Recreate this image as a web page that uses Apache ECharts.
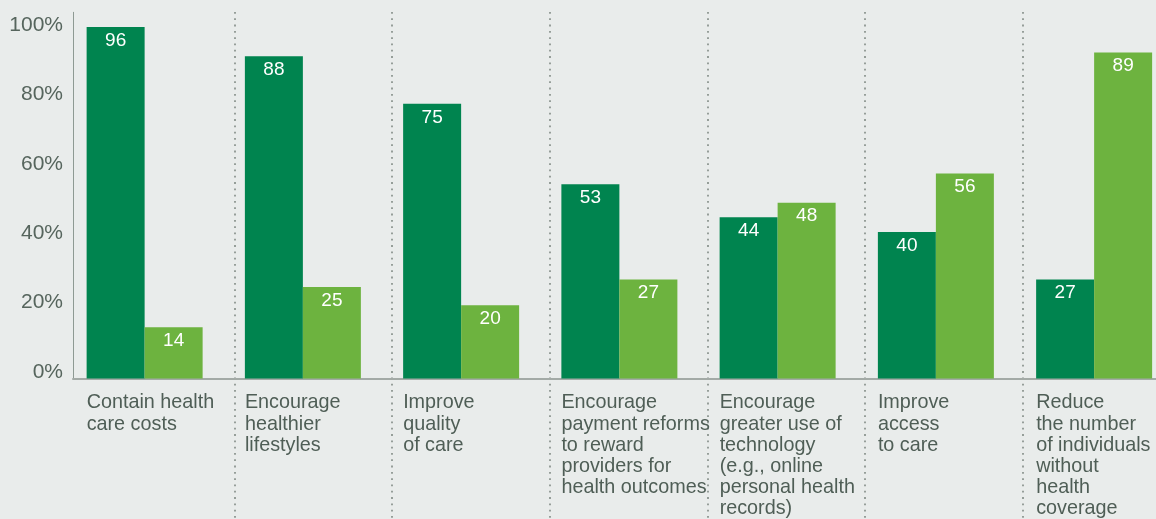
<!DOCTYPE html>
<html>
<head>
<meta charset="utf-8">
<title>Health care goals</title>
<script src="https://cdn.jsdelivr.net/npm/echarts@6/dist/echarts.min.js"></script>
<style>
  html, body { margin: 0; padding: 0; background: #e9eceb; overflow: hidden; }
  /* the last group runs slightly past the right edge of the window */
  #chart { width: 1180px; height: 519px; }
</style>
</head>
<body>
<div id="chart"></div>
<script>
// Goal categories (line breaks as they are set under each group)
const categories = [
  'Contain health\ncare costs',
  'Encourage\nhealthier\nlifestyles',
  'Improve\nquality\nof care',
  'Encourage\npayment reforms\nto reward\nproviders for\nhealth outcomes',
  'Encourage\ngreater use of\ntechnology\n(e.g., online\npersonal health\nrecords)',
  'Improve\naccess\nto care',
  'Reduce\nthe number\nof individuals\nwithout\nhealth\ncoverage'
];

// Percent values for the two bars in each group
const darkValues = [96, 88, 75, 53, 44, 40, 27];
const lightValues = [14, 25, 20, 27, 48, 56, 89];

// Value axis range and step
const yMin = 0;
const yMax = 100;
const yStep = 20;

const FONT = "'Liberation Sans', Arial, Helvetica, sans-serif";
const TEXT = '#4f5e56';

const chart = echarts.init(document.getElementById('chart'), null, { renderer: 'canvas' });

const barLabel = {
  show: true,
  position: 'insideTop',
  distance: 4,
  color: '#ffffff',
  fontSize: 19,
  fontFamily: FONT
};

chart.setOption({
  backgroundColor: '#e9eceb',
  animation: false,
  grid: [
    // plotting area for the bars
    { left: 65.5, top: 12.3, width: 1107.75, height: 366.7 },
    // column that carries the percent tick labels
    { left: 73, top: 25, width: 1, height: 347 },
    // full-height band used for the dotted group separators
    { left: 77, top: 12, width: 1107.75, height: 507 },
    // frame: left axis line and baseline
    { left: 73, top: 12.3, width: 1100, height: 366.7 }
  ],
  xAxis: [
    {
      type: 'category',
      gridIndex: 0,
      data: categories,
      boundaryGap: true,
      axisLine: { show: false },
      axisTick: { show: false },
      splitLine: { show: false },
      axisLabel: {
        interval: 0,
        margin: 14,
        align: 'center',
        verticalAlign: 'top',
        formatter: function (v) {
          return v.split('\n').map(function (l) { return '{c|' + l + '}'; }).join('\n');
        },
        rich: {
          c: {
            width: 116,
            align: 'left',
            fontSize: 19.8,
            lineHeight: 21.2,
            color: TEXT,
            fontFamily: FONT
          }
        }
      }
    },
    {
      type: 'value',
      gridIndex: 1,
      show: false
    },
    {
      type: 'category',
      gridIndex: 2,
      data: categories,
      boundaryGap: true,
      axisLine: { show: false },
      axisTick: { show: false },
      axisLabel: { show: false },
      splitLine: {
        show: true,
        interval: function (index) { return index > 0; },
        lineStyle: { color: '#8d9691', width: 1.8, type: [1.8, 4.5] }
      }
    },
    {
      type: 'value',
      gridIndex: 3,
      min: 0,
      max: 1,
      axisLine: { show: true, lineStyle: { color: '#a3aaa6', width: 2 } },
      axisTick: { show: false },
      axisLabel: { show: false },
      splitLine: { show: false }
    }
  ],
  yAxis: [
    {
      type: 'value',
      gridIndex: 0,
      min: yMin,
      max: yMax,
      interval: yStep,
      axisLine: { show: false },
      axisTick: { show: false },
      axisLabel: { show: false },
      splitLine: { show: false }
    },
    {
      type: 'value',
      gridIndex: 1,
      min: yMin,
      max: yMax,
      interval: yStep,
      axisLine: { show: false },
      axisTick: { show: false },
      splitLine: { show: false },
      axisLabel: {
        margin: 10,
        formatter: '{value}%',
        color: '#56655d',
        fontSize: 21,
        fontFamily: FONT
      }
    },
    {
      type: 'value',
      gridIndex: 2,
      show: false
    },
    {
      type: 'value',
      gridIndex: 3,
      min: yMin,
      max: yMax,
      axisLine: { show: true, lineStyle: { color: '#8e9a93', width: 1 } },
      axisTick: { show: false },
      axisLabel: { show: false },
      splitLine: { show: false }
    }
  ],
  series: [
    {
      name: 'Share A',
      type: 'bar',
      xAxisIndex: 0,
      yAxisIndex: 0,
      data: darkValues,
      barWidth: 58,
      barGap: '0%',
      itemStyle: { color: '#00844f' },
      label: barLabel
    },
    {
      name: 'Share B',
      type: 'bar',
      xAxisIndex: 0,
      yAxisIndex: 0,
      data: lightValues,
      barWidth: 58,
      barGap: '0%',
      itemStyle: { color: '#6db33f' },
      label: barLabel
    }
  ]
});
</script>
</body>
</html>
